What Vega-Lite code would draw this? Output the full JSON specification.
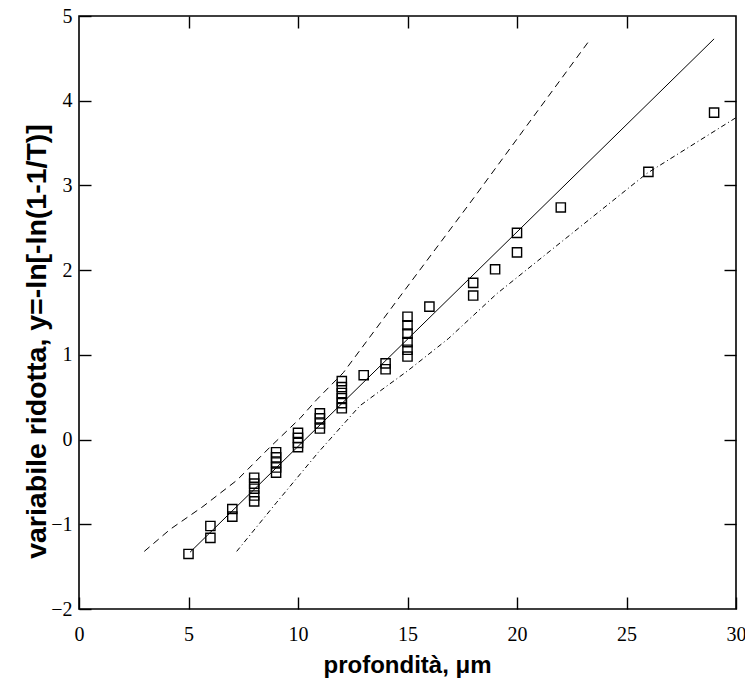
{
  "$schema": "https://vega.github.io/schema/vega-lite/v6.json",
  "width": 657,
  "height": 593,
  "autosize": "none",
  "padding": {"left": 79, "top": 16, "right": 9, "bottom": 75},
  "background": "white",
  "config": {
    "view": {"stroke": "black", "strokeWidth": 1.6},
    "axis": {
      "grid": false,
      "domain": false,
      "tickColor": "black",
      "tickWidth": 1.4,
      "tickSize": 12,
      "offset": -12,
      "labelColor": "black",
      "titleColor": "black"
    }
  },
  "datasets": {
    "points": [
      {"x": 5, "y": -1.35},
      {"x": 6, "y": -1.16}, {"x": 6, "y": -1.02},
      {"x": 7, "y": -0.91}, {"x": 7, "y": -0.82},
      {"x": 8, "y": -0.73}, {"x": 8, "y": -0.66}, {"x": 8, "y": -0.58}, {"x": 8, "y": -0.52}, {"x": 8, "y": -0.45},
      {"x": 9, "y": -0.39}, {"x": 9, "y": -0.33}, {"x": 9, "y": -0.27}, {"x": 9, "y": -0.21}, {"x": 9, "y": -0.15},
      {"x": 10, "y": -0.09}, {"x": 10, "y": -0.04}, {"x": 10, "y": 0.02}, {"x": 10, "y": 0.08},
      {"x": 11, "y": 0.13}, {"x": 11, "y": 0.19}, {"x": 11, "y": 0.25}, {"x": 11, "y": 0.31},
      {"x": 12, "y": 0.37}, {"x": 12, "y": 0.43}, {"x": 12, "y": 0.49}, {"x": 12, "y": 0.55}, {"x": 12, "y": 0.62}, {"x": 12, "y": 0.69},
      {"x": 13, "y": 0.76},
      {"x": 14, "y": 0.83}, {"x": 14, "y": 0.90},
      {"x": 15, "y": 0.98}, {"x": 15, "y": 1.06}, {"x": 15, "y": 1.15}, {"x": 15, "y": 1.25}, {"x": 15, "y": 1.35}, {"x": 15, "y": 1.45},
      {"x": 16, "y": 1.57},
      {"x": 18, "y": 1.70}, {"x": 18, "y": 1.85},
      {"x": 19, "y": 2.01},
      {"x": 20, "y": 2.21}, {"x": 20, "y": 2.44},
      {"x": 22, "y": 2.74},
      {"x": 26, "y": 3.16},
      {"x": 29, "y": 3.86}
    ],
    "fit": [
      {"x": 5.07, "y": -1.33},
      {"x": 29.0, "y": 4.73}
    ],
    "upper": [
      {"x": 2.98, "y": -1.32},
      {"x": 4.16, "y": -1.06},
      {"x": 5.66, "y": -0.79},
      {"x": 7.21, "y": -0.48},
      {"x": 8.72, "y": -0.09},
      {"x": 10.09, "y": 0.25},
      {"x": 10.85, "y": 0.47},
      {"x": 12.07, "y": 0.79},
      {"x": 14.66, "y": 1.69},
      {"x": 17.99, "y": 2.84},
      {"x": 20.29, "y": 3.65},
      {"x": 23.33, "y": 4.72}
    ],
    "lower": [
      {"x": 7.2, "y": -1.32},
      {"x": 9.03, "y": -0.74},
      {"x": 10.93, "y": -0.15},
      {"x": 12.83, "y": 0.40},
      {"x": 15.0, "y": 0.81},
      {"x": 16.86, "y": 1.19},
      {"x": 19.07, "y": 1.72},
      {"x": 20.9, "y": 2.10},
      {"x": 25.92, "y": 3.14},
      {"x": 30.0, "y": 3.80}
    ]
  },
  "resolve": {"axis": {"x": "independent", "y": "independent"}},
  "layer": [
    {
      "data": {"name": "fit"},
      "mark": {"type": "line", "color": "black", "strokeWidth": 1, "clip": true},
      "encoding": {
        "x": {"field": "x", "type": "quantitative", "scale": {"domain": [0, 30], "nice": false},
              "axis": {"orient": "top", "title": null, "labels": false, "values": [5, 10, 15, 20, 25]}},
        "y": {"field": "y", "type": "quantitative", "scale": {"domain": [-2, 5], "nice": false},
              "axis": {"orient": "right", "title": null, "labels": false, "values": [-1, 0, 1, 2, 3, 4]}}
      }
    },
    {
      "data": {"name": "upper"},
      "mark": {"type": "line", "color": "black", "strokeWidth": 1, "strokeDash": [7, 5], "clip": true},
      "encoding": {
        "x": {"field": "x", "type": "quantitative", "axis": null},
        "y": {"field": "y", "type": "quantitative", "axis": null}
      }
    },
    {
      "data": {"name": "lower"},
      "mark": {"type": "line", "color": "black", "strokeWidth": 1, "strokeDash": [5, 3, 1, 3], "clip": true},
      "encoding": {
        "x": {"field": "x", "type": "quantitative", "axis": null},
        "y": {"field": "y", "type": "quantitative", "axis": null}
      }
    },
    {
      "data": {"name": "points"},
      "mark": {"type": "point", "shape": "square", "filled": false, "size": 85, "stroke": "black", "strokeWidth": 1.4, "opacity": 1},
      "encoding": {
        "x": {"field": "x", "type": "quantitative",
              "axis": {"orient": "bottom", "title": "profondità,  μm", "values": [0, 5, 10, 15, 20, 25, 30],
                       "labelFont": "Times New Roman, Liberation Serif, serif", "labelFontSize": 20,
                       "labelPadding": 31, "labelBaseline": "alphabetic", "labelFlush": false,
                       "titleFont": "Liberation Sans", "titleFontWeight": "bold",
                       "titleFontSize": 24, "titleX": 328, "titleY": 75, "titleBaseline": "alphabetic", "titleAlign": "center"}},
        "y": {"field": "y", "type": "quantitative",
              "axis": {"orient": "left", "title": "variabile ridotta,  y=-ln[-ln(1-1/T)]", "values": [-2, -1, 0, 1, 2, 3, 4, 5],
                       "labelFont": "Times New Roman, Liberation Serif, serif", "labelFontSize": 20,
                       "labelPadding": 7, "labelFlush": false,
                       "titleFont": "Liberation Sans", "titleFontWeight": "bold",
                       "titleFontSize": 28.5, "titleX": -46, "titleY": 325, "titleAngle": -90, "titleBaseline": "alphabetic", "titleAlign": "center"}}
      }
    }
  ]
}
